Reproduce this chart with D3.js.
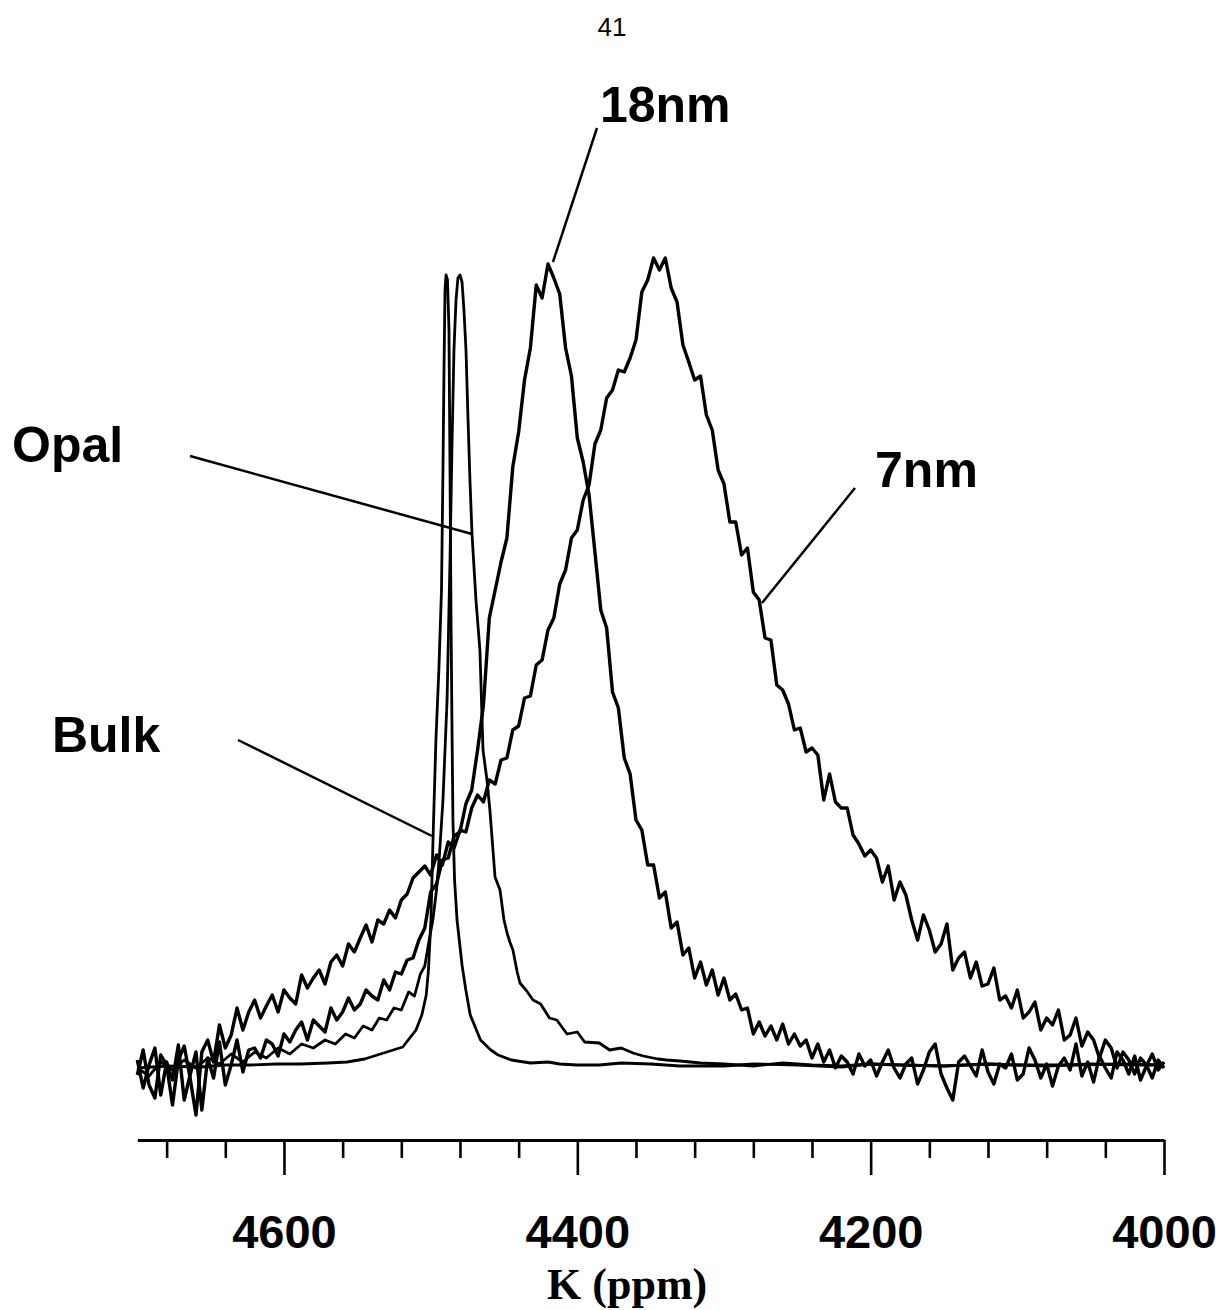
<!DOCTYPE html>
<html><head><meta charset="utf-8">
<script src="https://cdn.jsdelivr.net/npm/d3@7"></script>
<style>body{margin:0;background:#fff}</style></head>
<body>
<svg id="chart" width="1224" height="1310"></svg>
<script>
// ---------------- DATA ----------------
// Shared sampling of the two noisy spectra: 4700 ppm down to 4000 ppm, step 4 ppm
const gridStart = 4700, gridStep = 4;

// 7 nm spectrum (intensity, arbitrary units)
const nm7 = [
 -5,20,-15,-28,15,5,-35,10,24,-8,
 -45,18,30,8,45,22,35,62,40,58,
 70,52,64,75,58,80,72,66,95,82,
 92,100,86,108,115,104,126,118,132,145,
 128,150,146,160,152,170,176,192,198,204,
 195,215,205,228,222,240,238,262,275,268,
 290,286,310,312,340,344,372,374,405,410,
 440,452,486,500,532,540,570,585,626,640,
 672,680,700,698,712,730,778,790,812,800,
 812,782,768,725,708,690,694,655,640,600,
 586,548,548,515,522,478,470,432,430,385,
 380,366,340,342,318,322,315,270,296,268,
 262,262,235,226,214,220,212,188,204,170,
 188,175,150,130,155,140,118,126,146,100,
 112,118,92,108,84,86,102,70,74,62,
 80,52,58,68,40,52,45,60,30,35,
 52,24,38,30,12,30,22,2,18,10,
 -4,12,5,-8,10,2];

// 18 nm spectrum
const nm18 = [
 10,-18,5,22,-25,8,-10,25,-30,-5,
 18,-40,12,-8,28,-15,5,30,-2,20,
 22,12,30,26,14,36,28,40,48,30,
 50,44,38,62,50,58,72,60,66,80,
 74,70,90,80,98,96,110,112,130,142,
 178,186,210,212,234,238,266,280,320,365,
 452,480,508,532,603,638,690,722,785,772,
 806,792,776,722,694,632,608,575,518,460,
 442,378,362,312,296,250,240,205,205,172,
 178,142,148,115,122,92,108,85,100,75,
 92,70,76,60,62,36,48,34,44,30,
 46,26,36,24,30,12,26,8,20,2,
 14,8,-4,16,4,10,-6,8,20,2,
 -8,6,12,-14,0,18,26,-4,-18,-30,
 8,14,4,-6,20,-2,-14,6,2,16,
 -10,-4,22,10,-8,6,-16,4,12,0,
 26,-6,8,-12,14,2,-8,18,10,-4,
 14,-10,4,16,0,8];

// Bulk spectrum
const bulkPpm = [4700,4680,4657,4640,4623,4605,4589,4570,4557,4545,4532,4519,4510,4506,4503,
 4501.5,4499.8,4498.4,4496.4,4494.4,4492.6,4491.6,4490.9,4490.2,4489.5,
 4488.5,4487.5,4486.8,4486.1,4485.5,4484.8,4483.7,4482,4478.6,4476,
 4473,4466,4459,4454,4445,4432,4420,4412,4400,4385,4370,4350,4330,4300,4280,
 4250,4220,4200,4180,4150,4120,4100,4080,4050,4020,4000];
const bulkI = [2,4,3,5,5,6,6,7,8,11,17,23,40,55,75,
 100,150,230,330,400,480,600,700,780,795,
 790,740,600,450,350,250,190,150,105,80,
 55,30,20,15,10,7,8,6,5,5,7,6,4,4,6,
 5,3,6,5,4,6,5,4,6,5,5];

// Opal spectrum
const opalPpm = [4700,4692,4684,4676,4668,4660,4652,4644,4636,4628,4620,
 4612,4604,4596,4588,4580,4572,4565,4558,4552,4546,4540,4535,4530,4525,4520,
 4515,4511,4507,4504,4501,4498.5,4496,4494,4491.6,4488.8,
 4486.8,4485.5,4484.1,4482.7,4481.4,4480,4478.6,4477.3,4475.9,4474.5,
 4473.2,4471.8,4469.1,4466.4,4464.3,4461.6,4459.6,4456.1,4452.7,4450,
 4447.9,4446,4443.9,4441,4439.1,4435,4430.2,4425,4419,4414,
 4407,4400,4395,4385,4378,4370,4362,4355,4345,4339,
 4330,4316,4300,4280,4260,4240,4220,4200,4180,4150,4120,4100,4060,4030,4000];
const opalI = [2,-6,8,0,10,2,12,6,16,8,18,
 12,22,16,26,22,30,26,36,32,44,40,52,50,62,60,
 78,74,96,104,130,150,180,215,270,370,
 510,620,720,770,792,795,788,760,720,650,
 590,536,470,420,320,290,260,193,180,150,
 137,128,120,98,87,80,70,66,52,50,
 36,38,28,27,20,22,17,14,11,10,
 9,7,6,4,7,5,4,6,5,4,6,5,5,6,5];

// Axis ticks
const minorTickValues = d3.range(4680, 3999, -40);
const majorTicks = [4600, 4400, 4200, 4000];
const axisTitle = "K (ppm)";
const pageNumber = "41";

// Annotations: label and leader line, in data units (ppm, intensity)
const annotations = [
  {label: "18nm", tx: 4384.6, ty: 948, x1: 4386.6, y1: 942, x2: 4416.6, y2: 808},
  {label: "Opal", tx: 4785.4, ty: 608, x1: 4664.1, y1: 614, x2: 4471.8, y2: 536},
  {label: "7nm",  tx: 4197.0, ty: 583, x1: 4210.7, y1: 582, x2: 4274.1, y2: 467},
  {label: "Bulk", tx: 4758.2, ty: 318, x1: 4631.3, y1: 330, x2: 4499.1, y2: 234}
];

// ---------------- DRAW ----------------
const svg = d3.select('#chart');
svg.append('rect').attr('width',1224).attr('height',1310).attr('fill','#fff');

const x = d3.scaleLinear().domain([4700, 4000]).range([137.3, 1164]);
const y = d3.scaleLinear().domain([0, 800]).range([1070, 270]);

const gridSeries = arr => arr.map((v,i) => ({p: gridStart - i*gridStep, v}));
const pairSeries = (ps, vs) => ps.map((p,i) => ({p, v: vs[i]}));

const series = [
  {name: "Bulk", data: pairSeries(bulkPpm, bulkI), w: 2.8},
  {name: "Opal", data: pairSeries(opalPpm, opalI), w: 2.8},
  {name: "18nm", data: gridSeries(nm18), w: 3.4},
  {name: "7nm",  data: gridSeries(nm7), w: 3.4}
];

const line = d3.line().x(d => x(d.p)).y(d => y(d.v)).curve(d3.curveLinear);

svg.append('g').selectAll('path').data(series).join('path')
  .attr('d', d => line(d.data))
  .attr('fill','none').attr('stroke','#000')
  .attr('stroke-width', d => d.w)
  .attr('stroke-linejoin','round');

// page number
svg.append('text').attr('x',612).attr('y',36).attr('text-anchor','middle')
  .style('font-family','"Liberation Sans Narrow","Liberation Sans",Arial,sans-serif')
  .style('font-size','26px').attr('fill','#000').text(pageNumber);

// axis
const axisY = 1140;
const axis = d3.axisBottom(x).tickValues(minorTickValues).tickSize(18).tickSizeOuter(0)
  .tickFormat(d => majorTicks.includes(d) ? d3.format('d')(d) : '');
const gA = svg.append('g').attr('transform', `translate(0,${axisY})`).call(axis);
gA.select('.domain').attr('stroke','#000').attr('stroke-width',3);
gA.selectAll('.tick line').attr('stroke','#000').attr('stroke-width',2.6)
  .attr('y2', d => majorTicks.includes(d) ? 35 : 18);
gA.selectAll('.tick text').attr('y',108).attr('dy',0).attr('fill','#000')
  .style('font-family','"Liberation Sans",Arial,sans-serif')
  .style('font-weight','bold').style('font-size','47px');

svg.append('text').attr('x', x(4366)).attr('y', 1299).attr('text-anchor','middle')
  .style('font-family','"Liberation Serif","Times New Roman",serif')
  .style('font-weight','bold').style('font-size','44px').attr('fill','#000')
  .text(axisTitle);

// annotations
const gN = svg.append('g');
gN.selectAll('line').data(annotations).join('line')
  .attr('x1', d => x(d.x1)).attr('y1', d => y(d.y1))
  .attr('x2', d => x(d.x2)).attr('y2', d => y(d.y2))
  .attr('stroke','#000').attr('stroke-width',2.5);
gN.selectAll('text').data(annotations).join('text')
  .attr('x', d => x(d.tx)).attr('y', d => y(d.ty))
  .style('font-family','"Liberation Sans",Arial,sans-serif')
  .style('font-weight','bold').style('font-size','50px').attr('fill','#000')
  .text(d => d.label);
</script>
</body></html>
